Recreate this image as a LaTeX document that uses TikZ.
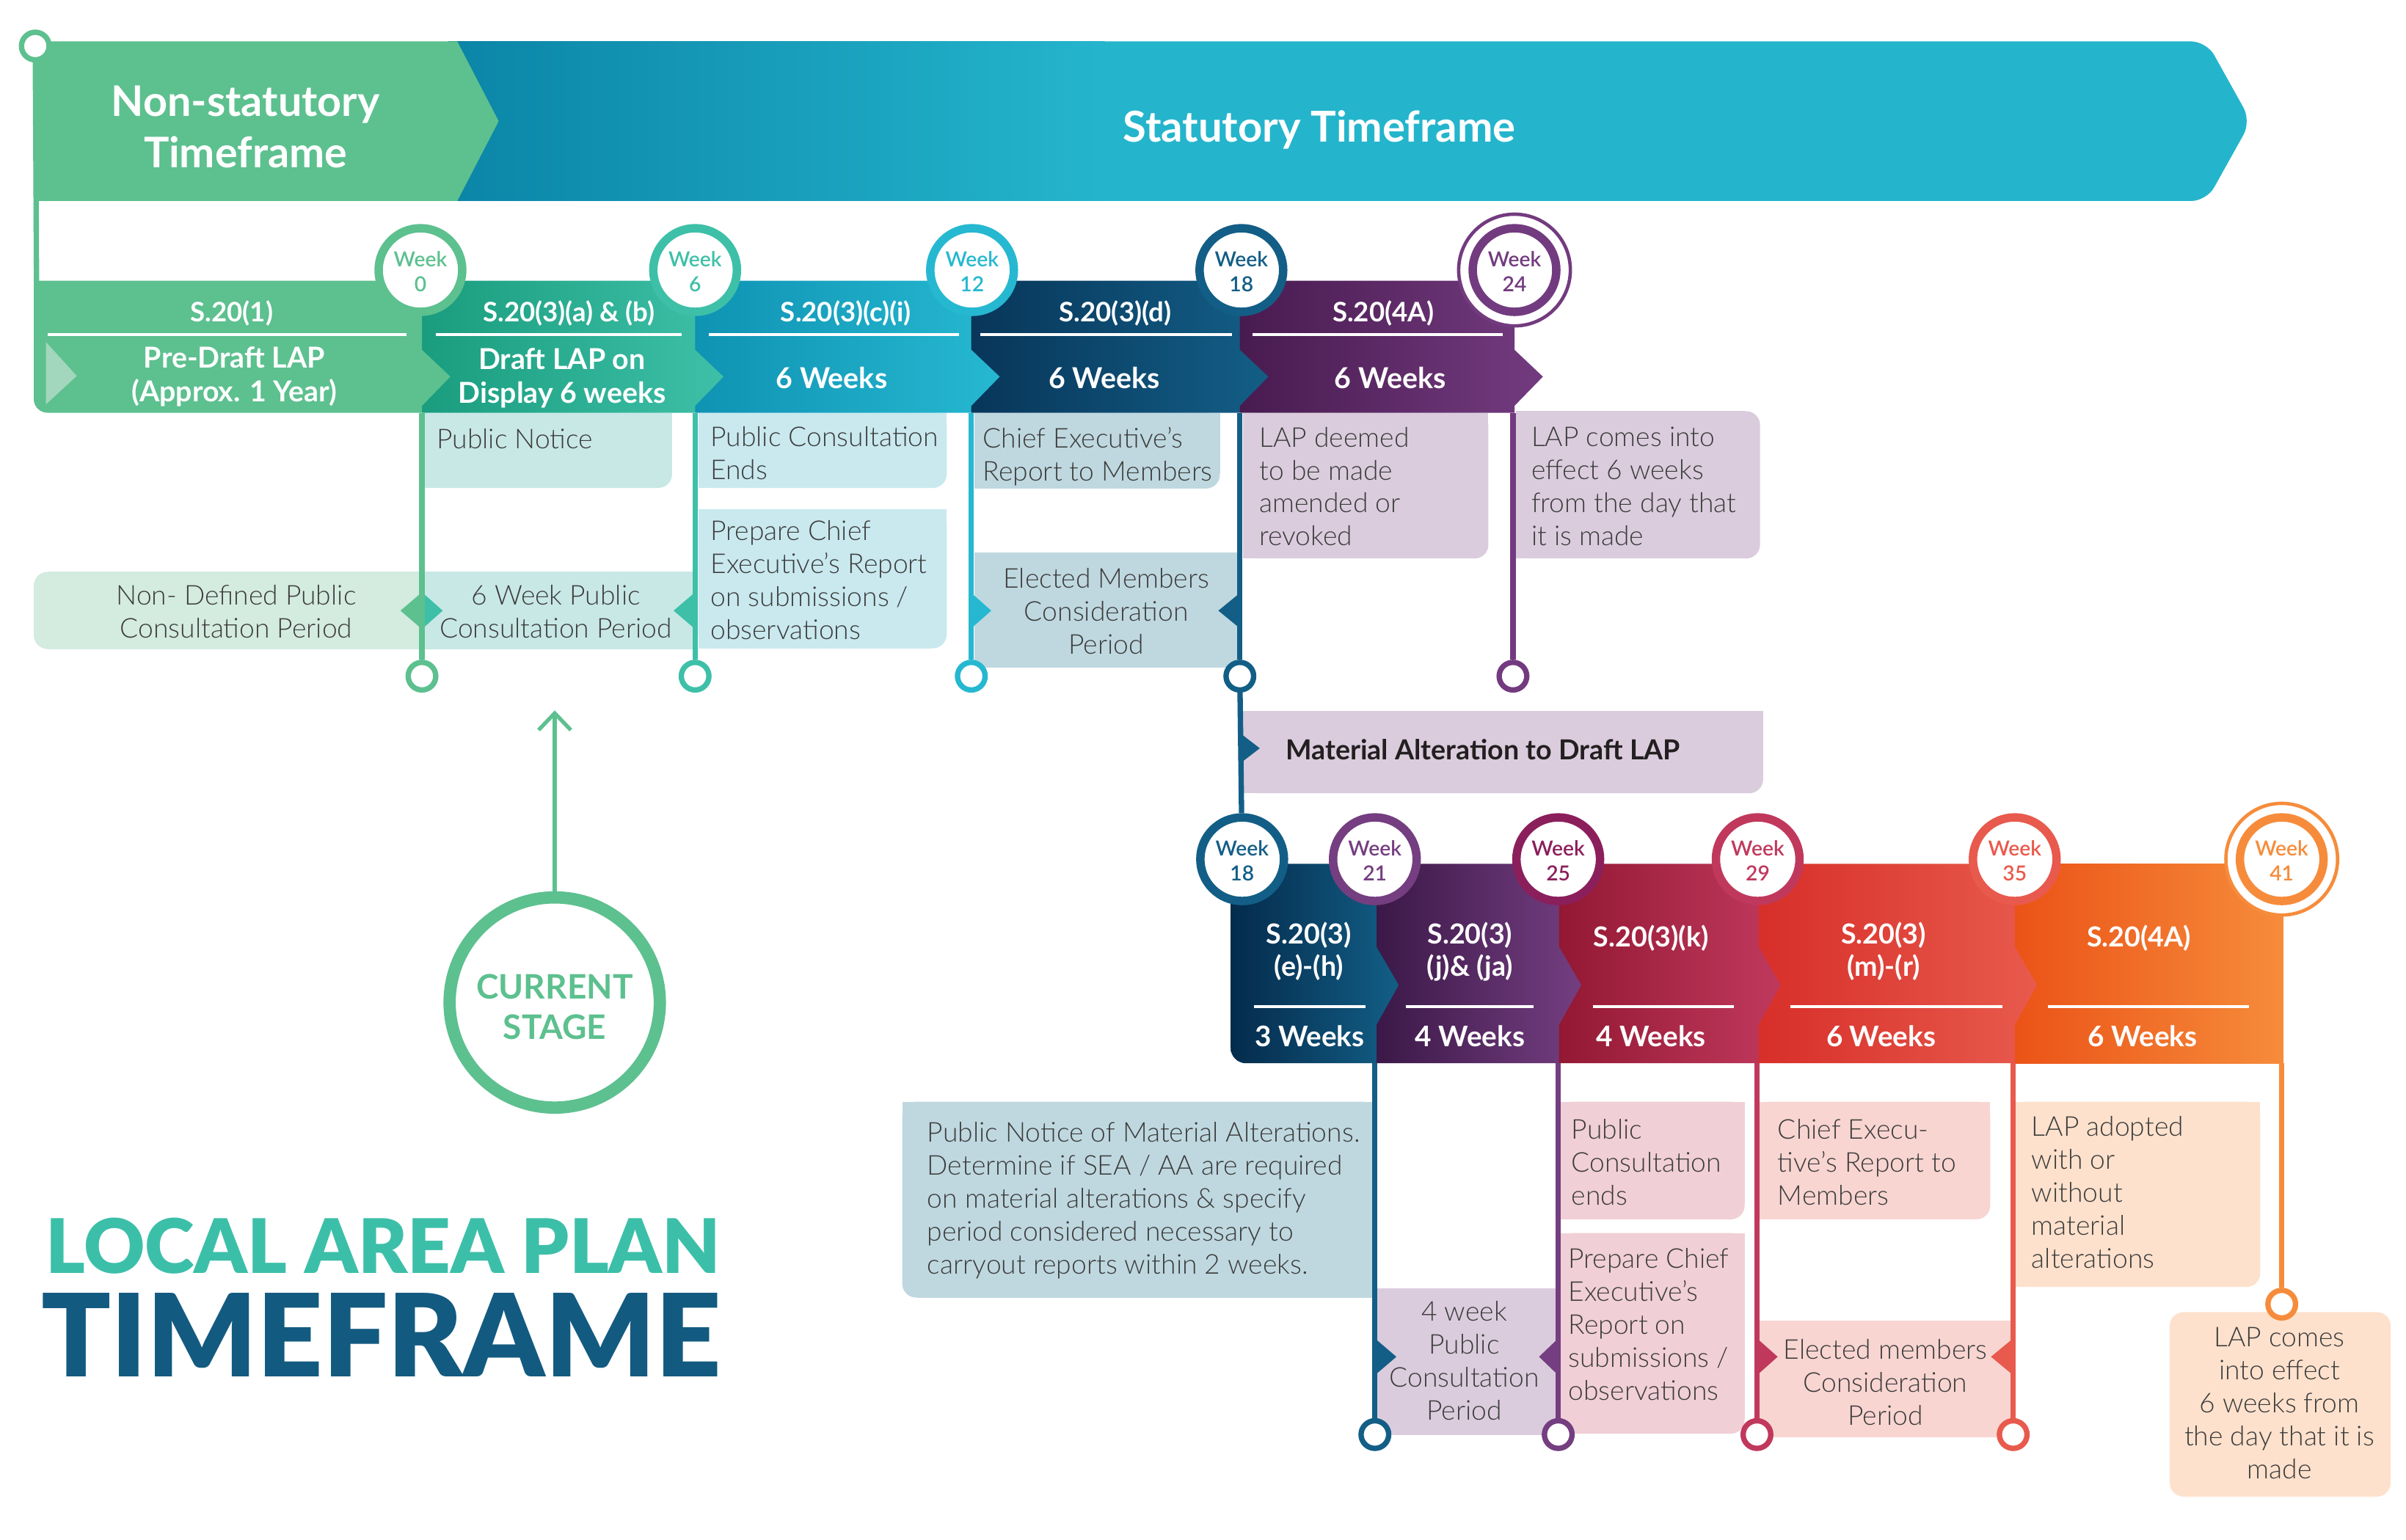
\documentclass[tikz,border=0pt]{standalone}
\usepackage{fontspec}
\usepackage{graphicx}
\setmainfont{Lato}
\newfontfamily\lightfont{Lato Light}
\newfontfamily\blackfont{Lato Black}
\newfontfamily\semifont{Lato Semibold}
\usetikzlibrary{arrows.meta}
\definecolor{gA}{HTML}{5DC08F}
\definecolor{gLt}{HTML}{A2D7BD}
\definecolor{tealD}{HTML}{1A9C7E}\definecolor{tealL}{HTML}{3EC0A8}
\definecolor{cyanD}{HTML}{0F93B3}\definecolor{cyanL}{HTML}{26B8D1}
\definecolor{navyD}{HTML}{08365A}\definecolor{navyL}{HTML}{135E86}
\definecolor{purD}{HTML}{481B50}\definecolor{purL}{HTML}{733B7F}
\definecolor{navyDD}{HTML}{042B4C}
\definecolor{purDD}{HTML}{3B1848}\definecolor{purLL}{HTML}{743E80}
\definecolor{crimD}{HTML}{931833}\definecolor{crimL}{HTML}{C0395D}
\definecolor{redD}{HTML}{D72F29}\definecolor{redL}{HTML}{E85A4D}
\definecolor{oraD}{HTML}{EB5317}\definecolor{oraL}{HTML}{F68C3B}
\definecolor{mag}{HTML}{8B1F5C}
\definecolor{bannerD}{HTML}{0B85A7}\definecolor{bannerL}{HTML}{24B5CC}
\definecolor{lgreen}{HTML}{D4EBE0}\definecolor{lteal}{HTML}{C8E8E5}
\definecolor{lcyan}{HTML}{C9E9EF}\definecolor{lblue}{HTML}{BFD8E0}
\definecolor{lpur}{HTML}{DACCDD}\definecolor{lpink}{HTML}{F1CFD7}
\definecolor{lsalm}{HTML}{F8D5D1}\definecolor{lpeach}{HTML}{FDE1CC}
\definecolor{txt}{HTML}{3C3C3C}
\definecolor{titleteal}{HTML}{3CBFA9}
\definecolor{titlenavy}{HTML}{135A80}
\definecolor{ink}{HTML}{231F20}
\tikzset{
  btxt/.style={font=\lightfont\fontsize{17.8}{21.5}\selectfont, text=txt, inner sep=0pt, yshift=-1.8pt, execute at begin node={\rule{0pt}{15pt}}},
  ltxt/.style={btxt, align=left, anchor=north west},
  ctxt/.style={btxt, align=center, anchor=north},
  lab/.style={font=\bfseries\fontsize{17.5}{21}\selectfont, text=white, inner sep=0pt, align=center, anchor=north, execute at begin node={\rule{0pt}{16pt}}},
  wks/.style={font=\bfseries\fontsize{18.8}{22}\selectfont, text=white, inner sep=0pt, align=center, anchor=north, yshift=-1.8pt, execute at begin node={\rule{0pt}{16pt}}},
  labb/.style={font=\bfseries\fontsize{18}{21.2}\selectfont, text=white, inner sep=0pt, align=center, anchor=north, execute at begin node={\rule{0pt}{16pt}}},
  wksb/.style={font=\bfseries\fontsize{18.5}{22}\selectfont, text=white, inner sep=0pt, align=center, anchor=north, execute at begin node={\rule{0pt}{16pt}}},
  ring/.style={circle, draw=#1, fill=white, line width=5.5pt, minimum size=54.5pt, inner sep=0pt},
  ringtxt/.style={text=#1, font=\semifont\fontsize{13.5}{16.4}\selectfont, inner sep=0pt, align=center, anchor=north, execute at begin node={\rule{0pt}{12pt}}},
  halo/.style={circle, draw=#1, fill=white, line width=2.2pt, minimum size=72.8pt, inner sep=0pt},
  endpt/.style={circle, draw=#1, fill=white, line width=3.5pt, minimum size=18pt, inner sep=0pt},
  stem/.style={draw=#1, line width=3.5pt},
  sepline/.style={draw=white, line width=2pt},
}
\newcommand\wk[5]{\node[ring=#4] (#1) at (#2,#3) {};\node[ringtxt=#4] (#1t) at (#2,{#3-12.3}) {Week\\#5};}
\newcommand\boxSq[5]{\fill[#1] (#2,#3) rectangle (#4,#5);}
\newcommand\boxBR[5]{\fill[#1,rounded corners=9pt] (#2,#3) rectangle (#4,#5);\fill[#1] (#2,#3) rectangle ({#4-10},#5);\fill[#1] (#2,#3) rectangle (#4,{#5-10});}
\newcommand\boxR[5]{\fill[#1,rounded corners=9pt] (#2,#3) rectangle (#4,#5);\fill[#1] (#2,#3) rectangle ({#4-10},#5);}
\newcommand\boxL[5]{\fill[#1,rounded corners=9pt] (#2,#3) rectangle (#4,#5);\fill[#1] ({#2+10},#3) rectangle (#4,#5);}
\newcommand\boxBL[5]{\fill[#1,rounded corners=9pt] (#2,#3) rectangle (#4,#5);\fill[#1] ({#2+10},#3) rectangle (#4,#5);\fill[#1] (#2,#3) rectangle (#4,{#5-10});}
\newcommand\boxAll[5]{\fill[#1,rounded corners=9pt] (#2,#3) rectangle (#4,#5);}
\newcommand\mkr[5]{\fill[#1] (#2,{#3-#5}) -- ({#2+#4},#3) -- (#2,{#3+#5}) -- cycle;}
\begin{document}
\begin{tikzpicture}[x=1pt,y=-1pt]
\useasboundingbox (0,0) rectangle (1568,1003.7);
\fill[white] (0,0) rectangle (1568,1003.7);
% ---------- top banner
\fill[bannerL, rounded corners=10pt] (290,27) -- (1438,27) -- (1467,79) -- (1438,131) -- (290,131) -- cycle;
\shade[left color=bannerD, right color=bannerL] (292,27) rectangle (720,131);
\fill[gA] (22,27) -- (298,27) -- (325,79) -- (298,131) -- (22,131) -- cycle;
\node[font=\bfseries\fontsize{27.5}{33.5}\selectfont, text=white, align=center, inner sep=0pt, anchor=north, execute at begin node={\rule{0pt}{22pt}}] (nst) at (160,55.6) {Non-statutory\\Timeframe};
\node[font=\bfseries\fontsize{27.7}{33.5}\selectfont, text=white, inner sep=0pt, anchor=base] (st) at (859.8,92.6) {Statutory Timeframe};
% left strip
\node[endpt=gA] (tl) at (23,30) {};
\coordinate (tlb) at (23.8,185);
\draw[stem=gA] (tl) -- (tlb);
% ---------- boxes row 1
\boxBR{lteal}{277}{269}{438}{318}
\boxBR{lcyan}{455}{269}{617}{318}
\boxBR{lcyan}{455}{332}{617}{422.5}
\boxL{lgreen}{22}{372.7}{275}{423}
\boxSq{lteal}{275}{372.7}{453}{423}
\boxBR{lblue}{635}{269}{795}{318.4}
\boxSq{lblue}{635}{360}{806}{435}
\boxBR{lpur}{810}{269}{970}{364}
\boxR{lpur}{988}{268}{1147}{364}
\boxBR{lpur}{810}{463.4}{1149}{517}
% ---------- boxes row 2
\boxBL{lblue}{588}{718}{896}{845.7}
\boxSq{lpur}{896}{839.8}{1015.5}{935.2}
\boxBR{lpink}{1015.5}{718}{1137}{794.7}
\boxBR{lpink}{1015.5}{803.6}{1137}{934.4}
\boxBR{lsalm}{1145}{718}{1297}{794.7}
\boxSq{lsalm}{1145}{860.6}{1312}{936.8}
\boxBR{lpeach}{1312}{718}{1473}{838.8}
\boxAll{lpeach}{1414}{855.2}{1558}{975.4}
% ---------- row 1 segments
\shade[left color=purD,right color=purL] (808,183) -- (987,183) -- (987,228) -- (1005.5,245.5) -- (987,264.5) -- (987,269) -- (808,269) -- cycle;
\shade[left color=navyD,right color=navyL] (633,183) -- (808,183) -- (808,228) -- (826.5,245.5) -- (808,264.5) -- (808,269) -- (633,269) -- cycle;
\shade[left color=cyanD,right color=cyanL] (453,183) -- (633,183) -- (633,228) -- (651.5,245.5) -- (633,264.5) -- (633,269) -- (453,269) -- cycle;
\shade[left color=tealD,right color=tealL] (275,183) -- (453,183) -- (453,228) -- (471.5,245.5) -- (453,264.5) -- (453,269) -- (275,269) -- cycle;
\fill[gA] (22,183) -- (275,183) -- (275,228) -- (293.5,245.5) -- (275,264.5) -- (275,269) -- (31,269) .. controls (26,269) and (22,265) .. (22,260) -- cycle;
\fill[gLt] (30,223) -- (50,245) -- (30,263.5) -- cycle;
\draw[sepline] (31,218) -- (265,218);
\draw[sepline] (284,218) -- (444,218);
\draw[sepline] (462,218) -- (625,218);
\draw[sepline] (639,218) -- (803,218);
\draw[sepline] (816.5,218) -- (979.5,218);
% ---------- row 2 segments
\shade[left color=oraD,right color=oraL] (1313,563) -- (1488,563) -- (1488,693) -- (1313,693) -- cycle;
\shade[left color=redD,right color=redL] (1146,563) -- (1313,563) -- (1313,617) -- (1327.5,642) -- (1313,668) -- (1313,693) -- (1146,693) -- cycle;
\shade[left color=crimD,right color=crimL] (1016,563) -- (1146,563) -- (1146,617) -- (1160.5,642) -- (1146,668) -- (1146,693) -- (1016,693) -- cycle;
\shade[left color=purDD,right color=purLL] (897,563) -- (1016,563) -- (1016,617) -- (1030.5,642) -- (1016,668) -- (1016,693) -- (897,693) -- cycle;
\shade[left color=navyDD,right color=navyL] (802,563) -- (897,563) -- (897,617) -- (911.5,642) -- (897,668) -- (897,693) -- (812,693) .. controls (806.5,693) and (802,688.5) .. (802,683) -- cycle;
\draw[sepline] (817,656) -- (890,656);
\draw[sepline] (916,656) -- (999.5,656);
\draw[sepline] (1038,656) -- (1130,656);
\draw[sepline] (1167,656) -- (1305,656);
\draw[sepline] (1334.4,656) -- (1465.6,656);
% ---------- markers
\mkr{gA}{275}{398}{-14}{12}
\mkr{tealL}{275}{398}{13.5}{12}
\mkr{tealL}{453}{398}{-14}{12}
\mkr{cyanL}{633}{398}{13}{11.5}
\mkr{navyL}{808}{398}{-14}{11.5}
\mkr{navyL}{808}{487.7}{13}{10}
\mkr{navyL}{896}{884.3}{14}{12}
\mkr{purLL}{1015.5}{884.3}{-12.5}{12}
\mkr{crimL}{1145}{884.3}{13.5}{12}
\mkr{redL}{1312}{884.3}{-14.5}{12}
% ---------- end points
\node[endpt=gA] (e0) at (275,440.7) {};
\node[endpt=tealL] (e6) at (453,440.7) {};
\node[endpt=cyanL] (e12) at (633,440.7) {};
\node[endpt=navyL] (e18) at (808,440.7) {};
\node[endpt=purL] (e24) at (986,440.7) {};
\node[endpt=navyL] (f21) at (896,935) {};
\node[endpt=purLL] (f25) at (1015.5,935) {};
\node[endpt=crimL] (f29) at (1145,935) {};
\node[endpt=redL] (f35) at (1312,935) {};
\node[endpt=oraL] (f41) at (1487,850) {};
% ---------- stems
\coordinate (r0) at (275,269);\coordinate (r6) at (453,269);\coordinate (r12) at (633,269);
\coordinate (r18) at (808,269);\coordinate (r24) at (986,269);
\draw[stem=gA] (r0) -- (e0);
\draw[stem=tealL] (r6) -- (e6);
\draw[stem=cyanL] (r12) -- (e12);
\draw[stem=navyL] (r18) -- (e18);
\draw[stem=purL] (r24) -- (e24);
\coordinate (q21) at (896,693);\coordinate (q25) at (1015.5,693);\coordinate (q29) at (1145,693);
\coordinate (q35) at (1312,693);\coordinate (q41) at (1487,693);
\draw[stem=navyL] (q21) -- (f21);
\draw[stem=purLL] (q25) -- (f25);
\draw[stem=crimL] (q29) -- (f29);
\draw[stem=redL] (q35) -- (f35);
\draw[stem=oraL] (q41) -- (f41);
% ---------- week circles
\node[halo=purL] (h24) at (987,176) {};
\node[halo=oraL] (h41) at (1487,560) {};
\wk{w0}{274}{176}{gA}{0}
\wk{w6}{453}{176}{tealL}{6}
\wk{w12}{633.5}{176}{cyanL}{12}
\wk{w18}{809}{176}{navyL}{18}
\wk{w24}{987}{176}{purL}{24}
\wk{v18}{809.5}{560}{navyL}{18}
\draw[stem=navyL] (e18) -- (v18);
\wk{v21}{896}{560}{purLL}{21}
\wk{v25}{1015.5}{560}{mag}{25}
\wk{v29}{1145.5}{560}{crimL}{29}
\wk{v35}{1313}{560}{redL}{35}
\wk{v41}{1487}{560}{oraL}{41}
% ---------- row 1 labels
\node[lab] (a1) at (151,193.3) {S.20(1)};
\node[lab] (a2) at (370.7,193.3) {S.20(3)(a) \& (b)};
\node[lab] (a3) at (551.3,193.3) {S.20(3)(c)(i)};
\node[lab] (a4) at (726.8,193.3) {S.20(3)(d)};
\node[lab] (a5) at (901.4,193.3) {S.20(4A)};
\node[wks] (b1) at (152.7,224.1) {Pre-Draft LAP\\(Approx. 1 Year)};
\node[wks] (b2) at (366.3,225) {Draft LAP on\\Display 6 weeks};
\node[wks] (b3) at (542,235.3) {6 Weeks};
\node[wks] (b4) at (719.6,235.3) {6 Weeks};
\node[wks] (b5) at (906,235.3) {6 Weeks};
% ---------- row 2 labels
\node[labb] (c1) at (853,600.7) {S.20(3)\\(e)-(h)};
\node[labb] (c2) at (958,600.7) {S.20(3)\\(j)\& (ja)};
\node[labb] (c3) at (1076,600.7) {S.20(3)(k)};
\node[labb] (c4) at (1227.5,600.7) {S.20(3)\\(m)-(r)};
\node[labb] (c5) at (1394,600.7) {S.20(4A)};
\node[wksb] (d1) at (853.6,665.7) {3 Weeks};
\node[wksb] (d2) at (958,665.7) {4 Weeks};
\node[wksb] (d3) at (1076,665.7) {4 Weeks};
\node[wksb] (d4) at (1225.9,665.7) {6 Weeks};
\node[wksb] (d5) at (1396.3,665.7) {6 Weeks};
% ---------- box texts row 1
\node[ltxt] (pn) at (284.5,275.2) {Public Notice};
\node[ltxt] (pce) at (462.9,276) {Public Consultation\\Ends};
\node[ltxt] (pcer) at (462.9,337.4) {Prepare Chief\\Executive’s Report\\on submissions /\\observations};
\node[ctxt] (ndp) at (154,379.5) {Non- Defined Public\\Consultation Period};
\node[ctxt] (swp) at (362.3,379.5) {6 Week Public\\Consultation Period};
\node[ltxt] (cer) at (640.4,276.3) {Chief Executive’s\\Report to Members};
\node[ctxt] (emc) at (721,368.5) {Elected Members\\Consideration\\Period};
\node[ltxt] (ldm) at (820.6,276.3) {LAP deemed\\to be made\\amended or\\revoked};
\node[ltxt] (lci) at (997.8,276.3) {LAP comes into\\effect 6 weeks\\from the day that\\it is made};
\node[font=\bfseries\fontsize{18}{21}\selectfont, text=ink, inner sep=0pt, anchor=north west, execute at begin node={\rule{0pt}{15pt}}] (mat) at (837.7,480.2) {Material Alteration to Draft LAP};
% ---------- box texts row 2
\node[ltxt] (pnma) at (604.2,729.3) {Public Notice of Material Alterations.\\Determine if SEA / AA are required\\on material alterations \& specify\\period considered necessary to\\carryout reports within 2 weeks.};
\node[ctxt] (fwp) at (954.2,846.1) {4 week\\Public\\Consultation\\Period};
\node[ltxt] (pcen) at (1024,727.4) {Public\\Consultation\\ends};
\node[ltxt] (pcer2) at (1022,811.5) {Prepare Chief\\Executive’s\\Report on\\submissions /\\observations};
\node[ltxt] (cer2) at (1158.4,727.4) {Chief Execu-\\tive’s Report to\\Members};
\node[ctxt] (emc2) at (1228.7,870.9) {Elected members\\Consideration\\Period};
\node[ltxt] (lapa) at (1323.8,725.4) {LAP adopted\\with or\\without\\material\\alterations};
\node[ctxt] (lce2) at (1485.5,863) {LAP comes\\into effect\\6 weeks from\\the day that it is\\made};
% ---------- current stage
\node[circle, draw=gA, line width=8pt, minimum size=137pt, inner sep=0pt] (cs) at (361.5,653.4) {};
\node[font=\bfseries\fontsize{22}{26.2}\selectfont, text=gA, align=center, inner sep=0pt, anchor=north, execute at begin node={\rule{0pt}{18pt}}] (cst) at (361.5,635) {CURRENT\\STAGE};
\coordinate (cstip) at (361.5,463);
\draw[gA, line width=2.5pt, -{Straight Barb[length=11pt,width=21pt]}] (cs.north) -- (cstip);
% ---------- titles
\node[anchor=base west, inner sep=0pt, text=titleteal] (ttl1) at (29.5,830) {\resizebox{440pt}{!}{\blackfont\fontsize{50}{60}\selectfont LOCAL AREA PLAN}};
\node[anchor=base west, inner sep=0pt, text=titlenavy] (ttl2) at (26.8,897.3) {\resizebox{443pt}{!}{\blackfont\fontsize{75}{90}\selectfont TIMEFRAME}};
\end{tikzpicture}
\end{document}
